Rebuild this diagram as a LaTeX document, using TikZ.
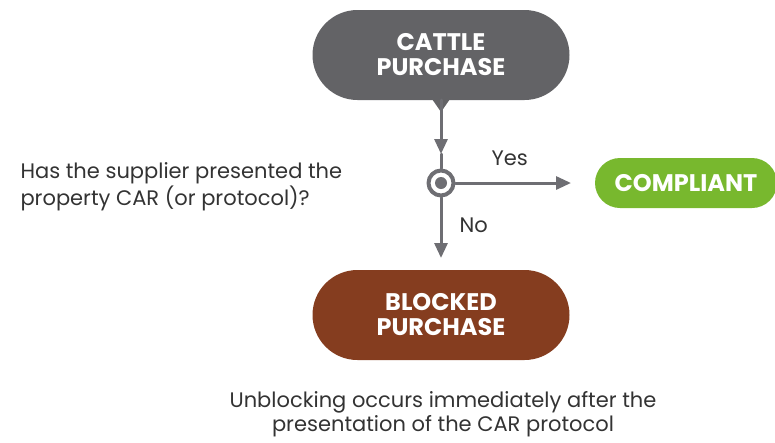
\documentclass[tikz,border=0pt]{standalone}
\usepackage{fontspec}
\setmainfont{Poppins}
\usetikzlibrary{arrows.meta}
\definecolor{ggnode}{rgb}{0.39,0.39,0.40}
\definecolor{bbnode}{rgb}{0.52,0.24,0.12}
\definecolor{ccnode}{rgb}{0.47,0.72,0.18}
\definecolor{llline}{rgb}{0.43,0.43,0.45}
\definecolor{tttext}{rgb}{0.20,0.20,0.20}
\tikzset{
  pill/.style={rounded corners=45pt,minimum width=257pt,minimum height=90pt,text=white,align=center,font=\fontsize{24}{25}\selectfont\bfseries},
  conn/.style={color=llline,line width=3pt},
  plain/.style={text=tttext,font=\fontsize{21}{27}\selectfont}
}
\begin{document}
\begin{tikzpicture}[line cap=round,line join=round,>={Triangle[width=13pt,length=15pt]},x=1pt,y=-1pt]
\useasboundingbox (0,0) rectangle (775,442);
\node[pill,fill=ggnode] (cattle) at (441,55) {CATTLE\\PURCHASE};
\node[pill,fill=bbnode] (blocked) at (441,315) {BLOCKED\\PURCHASE};
\node[pill,fill=ccnode,rounded corners=25pt,minimum width=182pt,minimum height=50pt] (compliant) at (686,183) {COMPLIANT};
\fill[color=ggnode] (432,99) -- (450,99) -- (441,112) -- cycle;
\node[circle,draw=llline,line width=4pt,fill=white,minimum size=25pt,inner sep=0pt] (check) at (441,183) {};
\fill[color=llline] (check) circle (6pt);
\coordinate (down1) at (441,154);
\coordinate (yes) at (571,183);
\coordinate (no) at (441,258);
\draw[conn,->] (cattle.south) -- (down1);
\draw[conn] (down1) -- (check.north);
\draw[conn,->] (check.east) -- (yes);
\draw[conn,->] (check.south) -- (no);
\node[plain,anchor=west] at (488,158) {Yes};
\node[plain,anchor=west] at (456,225) {No};
\node[plain,align=left,anchor=west] (question) at (17,187) {Has the supplier presented the\\property CAR (or protocol)?};
\node[plain,align=center,font=\fontsize{21}{24}\selectfont] (note) at (443,414) {Unblocking occurs immediately after the\\presentation of the CAR protocol};
\end{tikzpicture}
\end{document}
